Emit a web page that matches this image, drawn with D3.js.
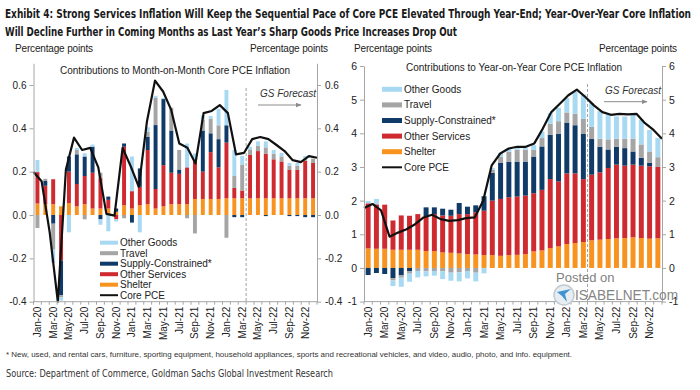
<!DOCTYPE html>
<html>
<head>
<meta charset="utf-8">
<script src="https://cdn.jsdelivr.net/npm/d3@7"></script>
<style>
  body { margin: 0; background: #fff; }
  svg text { font-family: "Liberation Sans", Arial, sans-serif; fill: #222; }
  svg text.cond { font-family: "Liberation Sans Narrow", "DejaVu Sans Condensed", "Liberation Sans", sans-serif; }
</style>
</head>
<body>
<svg id="chart" width="700" height="390"></svg>
<script>
// categories
let months = ["Jan-20","Feb-20","Mar-20","Apr-20","May-20","Jun-20","Jul-20","Aug-20","Sep-20","Oct-20","Nov-20","Dec-20",
  "Jan-21","Feb-21","Mar-21","Apr-21","May-21","Jun-21","Jul-21","Aug-21","Sep-21","Oct-21","Nov-21","Dec-21",
  "Jan-22","Feb-22","Mar-22","Apr-22","May-22","Jun-22","Jul-22","Aug-22","Sep-22","Oct-22","Nov-22","Dec-22"];

// month-on-month contributions (pp)
let momShelter = [0.053,0.05,0.05,0.04,0.055,0.04,0.05,0.03,0.03,0.03,0.015,0.045,
  0.03,0.045,0.05,0.03,0.04,0.05,0.05,0.05,0.074,0.074,0.074,0.074,
  0.077,0.077,0.077,0.077,0.077,0.077,0.077,0.077,0.077,0.077,0.077,0.077];
let momOtherServices = [0.145,0.085,0.115,-0.21,0.145,0.103,0.13,0.165,0.14,0.04,-0.02,0.27,
  0.08,0.085,0.25,0.09,0.19,0.145,0.14,0.17,0.18,0.126,0.216,0.146,
  0.257,0.048,0.036,0.2,0.218,0.205,0.18,0.17,0.131,0.131,0.173,0.163];
let momSupply = [0,0.022,-0.04,-0.16,0.07,0.137,0.09,0.12,-0.02,0.015,0.015,0.015,
  -0.035,0.085,0.06,0.295,0.305,0.195,0.02,0,0,0.19,0.087,0.13,
  0.08,-0.01,-0.01,0,0,-0.005,0,0,-0.005,-0.005,-0.01,-0.01];
let momTravel = [-0.06,0.01,-0.12,-0.01,0,0.02,-0.02,0,0.025,0,0,-0.015,
  0,0,0.025,0.125,0,0.105,0.09,-0.015,-0.085,0.05,0.068,0.064,
  -0.105,0.055,0.12,0.026,0.025,0.03,0.025,0.023,0.02,0.02,0.008,0.02];
let momOtherGoods = [0.056,0,-0.06,-0.015,-0.08,0.01,0.015,0.01,-0.025,-0.075,-0.01,0,
  0.16,-0.08,0.02,0.01,0.005,0,0,0.11,0.03,0.02,0.012,0.076,
  0.163,0.12,0.04,0.012,0.02,0.028,0.018,0.017,0.012,0.012,0.014,0];
let momCore = [0.198,0.156,-0.08,-0.40,0.21,0.357,0.30,0.31,0.22,0.005,-0.003,0.31,
  0.225,0.13,0.43,0.62,0.57,0.485,0.33,0.31,0.238,0.47,0.48,0.507,
  0.47,0.28,0.287,0.35,0.36,0.35,0.323,0.295,0.253,0.244,0.272,0.264];

// year-on-year contributions (pp)
let yoyShelter = [0.58,0.57,0.57,0.54,0.54,0.54,0.54,0.5,0.5,0.46,0.45,0.43,
  0.41,0.4,0.38,0.38,0.36,0.38,0.39,0.41,0.49,0.52,0.59,0.64,
  0.71,0.74,0.77,0.82,0.84,0.86,0.88,0.89,0.91,0.89,0.87,0.88];
let yoyOtherServices = [1.34,1.30,1.31,0.87,1.02,1.01,1.06,1.03,1.10,1.10,1.10,1.17,
  1.19,1.25,1.32,1.62,1.69,1.72,1.73,1.74,1.73,1.80,2.05,1.93,
  2.10,2.07,1.87,1.95,2.00,2.11,2.19,2.15,2.16,2.15,2.15,2.12];
let yoySupply = [-0.21,-0.15,-0.18,-0.3,-0.22,-0.1,0,0.27,0.2,0.2,0.18,0.33,
  0.22,0.21,0.43,0.83,1.08,1.05,1.04,1.01,1.09,1.29,1.32,1.42,
  1.51,1.43,1.34,1.06,0.76,0.55,0.53,0.52,0.39,0.23,0.1,0];
let yoyTravel = [0,0.04,0,-0.07,-0.07,-0.07,-0.09,-0.1,-0.09,-0.1,-0.14,-0.13,
  -0.09,-0.14,0,0.08,0.17,0.3,0.35,0.35,0.2,0.25,0.32,0.37,
  0.3,0.34,0.45,0.36,0.24,0.3,0.24,0.28,0.38,0.4,0.34,0.29];
let yoyOtherGoods = [0.07,0.14,0,-0.17,-0.27,-0.24,-0.19,-0.15,-0.14,-0.23,-0.24,-0.27,
  -0.22,-0.26,-0.16,0.06,0.12,0.1,0.07,0.07,0.14,0.19,0.32,0.4,
  0.43,0.65,0.72,0.71,0.82,0.74,0.66,0.66,0.72,0.74,0.64,0.57];
let yoyCore = [1.78,1.9,1.71,0.93,1.05,1.15,1.3,1.5,1.58,1.45,1.4,1.42,
  1.48,1.5,2.0,3.05,3.4,3.55,3.6,3.6,3.7,4.14,4.63,4.88,
  5.13,5.3,5.08,4.83,4.63,4.55,4.58,4.56,4.58,4.3,4.1,3.84];

let momTicks = [-0.4,-0.2,0,0.2,0.4,0.6];
let yoyTicks = [-1,0,1,2,3,4,5,6];

let keys = ["shelter","otherServices","supply","travel","otherGoods"];
let colors = {
  shelter: "#f7931e",
  otherServices: "#cf2a30",
  supply: "#103a68",
  travel: "#a5a5a5",
  otherGoods: "#a8d9f3"
};
let legendItems = [
  {key: "otherGoods", label: "Other Goods"},
  {key: "travel", label: "Travel"},
  {key: "supply", label: "Supply-Constrained*"},
  {key: "otherServices", label: "Other Services"},
  {key: "shelter", label: "Shelter"},
  {key: "core", label: "Core PCE"}
];

let svg = d3.select("#chart");

svg.append("defs").append("marker")
  .attr("id", "arrow")
  .attr("viewBox", "0 0 10 10")
  .attr("refX", 9).attr("refY", 5)
  .attr("markerWidth", 6).attr("markerHeight", 6)
  .attr("orient", "auto")
  .append("path")
  .attr("d", "M0,1 L10,5 L0,9 Z")
  .attr("fill", "#8c8c8c");

// title
svg.append("text").attr("class", "cond")
  .attr("x", 5).attr("y", 18)
  .attr("font-size", 13).attr("font-weight", "bold")
  .attr("textLength", 686).attr("lengthAdjust", "spacingAndGlyphs")
  .style("fill", "#1a1a1a")
  .text("Exhibit 4: Strong Services Inflation Will Keep the Sequential Pace of Core PCE Elevated Through Year-End; Year-Over-Year Core Inflation");
svg.append("text").attr("class", "cond")
  .attr("x", 5).attr("y", 36)
  .attr("font-size", 13).attr("font-weight", "bold")
  .attr("textLength", 452).attr("lengthAdjust", "spacingAndGlyphs")
  .style("fill", "#1a1a1a")
  .text("Will Decline Further in Coming Months as Last Year\u2019s Sharp Goods Price Increases Drop Out");

function drawPanel(p) {
  let g = svg.append("g");

  let rows = months.map((m, i) => {
    let r = {month: m};
    keys.forEach(k => r[k] = p.data[k][i]);
    return r;
  });

  let x = d3.scaleBand().domain(months)
    .range([p.x0, p.x1])
    .paddingInner(p.pad).paddingOuter(p.pad / 2);
  let xLine = d3.scalePoint().domain(months).range([p.x0, p.x1]);
  let y = d3.scaleLinear().domain(p.yDomain).range([p.yBottom, p.yTop]);
  let step = x.step();

  // stacked bars
  let stacked = d3.stack().keys(keys).offset(d3.stackOffsetDiverging)(rows);
  g.selectAll("g.layer")
    .data(stacked)
    .enter()
    .append("g")
    .attr("fill", d => colors[d.key])
    .selectAll("rect")
    .data(d => d)
    .enter()
    .append("rect")
    .attr("x", d => x(d.data.month))
    .attr("width", x.bandwidth())
    .attr("y", d => y(Math.max(d[0], d[1])))
    .attr("height", d => Math.abs(y(d[0]) - y(d[1])));

  // forecast divider
  let xf = x("Apr-22") - step * p.pad / 2;
  g.append("line")
    .attr("x1", xf).attr("x2", xf)
    .attr("y1", p.dashTop).attr("y2", p.yBottom)
    .attr("stroke", "#8c8c8c").attr("stroke-width", 0.8)
    .attr("stroke-dasharray", "3,2");

  g.append("text")
    .attr("x", p.gsX).attr("y", p.gsY)
    .attr("font-size", 10).attr("font-style", "italic")
    .style("fill", "#333")
    .text("GS Forecast");
  g.append("line")
    .attr("x1", p.arrowX0).attr("x2", p.arrowX1)
    .attr("y1", p.arrowY).attr("y2", p.arrowY)
    .attr("stroke", "#8c8c8c").attr("stroke-width", 1)
    .attr("marker-end", "url(#arrow)");

  // core PCE line
  let line = d3.line()
    .x((d, i) => xLine(months[i]))
    .y(d => y(d));
  g.append("path")
    .datum(p.core)
    .attr("d", line)
    .attr("fill", "none")
    .attr("stroke", "#111")
    .attr("stroke-width", 2.2)
    .attr("stroke-linejoin", "round");

  // y axes
  let leftAxis = d3.axisLeft(y).tickValues(p.ticks).tickFormat(p.fmt)
    .tickSize(4).tickPadding(3).tickSizeOuter(0);
  let rightAxis = d3.axisRight(y).tickValues(p.ticks).tickFormat(p.fmt)
    .tickSize(4).tickPadding(p.rightPad).tickSizeOuter(0);
  let yl = g.append("g").attr("transform", `translate(${p.x0},0)`).call(leftAxis);
  let yr = g.append("g").attr("transform", `translate(${p.x1},0)`).call(rightAxis);
  [yl, yr].forEach(a => {
    a.select(".domain").attr("stroke", "#a6a6a6");
    a.selectAll(".tick line").attr("stroke", "#a6a6a6");
    a.selectAll(".tick text")
      .attr("font-size", p.tickFont)
      .style("font-family", "'Liberation Sans', Arial, sans-serif")
      .style("fill", "#222");
  });

  // bottom axis
  g.append("line")
    .attr("x1", p.x0).attr("x2", p.x1)
    .attr("y1", p.yBottom).attr("y2", p.yBottom)
    .attr("stroke", "#a6a6a6");
  g.selectAll("line.xtick")
    .data(months.concat(["end"]))
    .enter()
    .append("line")
    .attr("x1", (d, i) => p.x0 + i * step)
    .attr("x2", (d, i) => p.x0 + i * step)
    .attr("y1", p.yBottom).attr("y2", p.yBottom + 3)
    .attr("stroke", "#a6a6a6");
  g.selectAll("text.xlab")
    .data(months.filter((m, i) => i % 2 === 0))
    .enter()
    .append("text")
    .attr("transform", d => `translate(${x(d) + x.bandwidth() / 2},${p.yBottom + 5}) rotate(-90)`)
    .attr("dy", "0.35em")
    .attr("text-anchor", "end")
    .attr("font-size", 10)
    .text(d => d);

  // subtitle and unit labels
  g.append("text")
    .attr("x", p.subX).attr("y", p.subY)
    .attr("font-size", 10)
    .attr("textLength", p.subLen).attr("lengthAdjust", "spacing")
    .text(p.subtitle);
  g.append("text")
    .attr("x", p.unitL).attr("y", 52)
    .attr("font-size", 10).attr("textLength", 78).attr("lengthAdjust", "spacing")
    .text("Percentage  points");
  g.append("text")
    .attr("x", p.unitR).attr("y", 52)
    .attr("font-size", 10).attr("textLength", 78).attr("lengthAdjust", "spacing")
    .text("Percentage  points");

  // legend
  let lg = g.append("g");
  legendItems.forEach((it, i) => {
    let cy = p.legY + i * p.legStep;
    if (it.key === "core") {
      lg.append("line")
        .attr("x1", p.legX).attr("x2", p.legX + p.legW)
        .attr("y1", cy).attr("y2", cy)
        .attr("stroke", "#111").attr("stroke-width", 2);
    } else {
      lg.append("rect")
        .attr("x", p.legX).attr("y", cy - p.legH / 2)
        .attr("width", p.legW).attr("height", p.legH)
        .attr("fill", colors[it.key]);
    }
    lg.append("text")
      .attr("x", p.legX + p.legW + 2).attr("y", cy)
      .attr("dy", "0.35em")
      .attr("font-size", 10)
      .text(it.label);
  });
}

drawPanel({
  data: {shelter: momShelter, otherServices: momOtherServices, supply: momSupply, travel: momTravel, otherGoods: momOtherGoods},
  core: momCore,
  x0: 33.5, x1: 317, yTop: 63.3, yBottom: 301.7, yDomain: [-0.4, 0.7],
  pad: 0.5, ticks: momTicks, fmt: d => d.toFixed(1), tickFont: 10, rightPad: 4,
  dashTop: 88, gsX: 260, gsY: 97, arrowX0: 258, arrowX1: 301, arrowY: 105,
  subtitle: "Contributions to Month-on-Month  Core PCE Inflation", subX: 60, subY: 74, subLen: 230,
  unitL: 15, unitR: 250,
  legX: 100, legY: 242.7, legStep: 10.5, legW: 18, legH: 4
});

drawPanel({
  data: {shelter: yoyShelter, otherServices: yoyOtherServices, supply: yoySupply, travel: yoyTravel, otherGoods: yoyOtherGoods},
  core: yoyCore,
  x0: 364, x1: 662, yTop: 66, yBottom: 301.6, yDomain: [-1, 6],
  pad: 0.4, ticks: yoyTicks, fmt: d => String(d), tickFont: 10.5, rightPad: 3,
  dashTop: 84, gsX: 605, gsY: 94, arrowX0: 604, arrowX1: 647, arrowY: 101.7,
  subtitle: "Contributions to Year-on-Year  Core PCE Inflation", subX: 406, subY: 71, subLen: 216,
  unitL: 354, unitR: 599,
  legX: 382, legY: 89.3, legStep: 15.6, legW: 20, legH: 5
});

// footnote and source
svg.append("text")
  .attr("x", 6).attr("y", 357)
  .attr("font-size", 7.5)
  .attr("textLength", 566).attr("lengthAdjust", "spacingAndGlyphs")
  .style("fill", "#333")
  .text("* New, used, and rental cars, furniture, sporting equipment, household appliances, sports and recreational vehicles, and video, audio, photo, and info. equipment.");
svg.append("text").attr("class", "cond")
  .attr("x", 6).attr("y", 377)
  .attr("font-size", 11)
  .attr("textLength", 327).attr("lengthAdjust", "spacingAndGlyphs")
  .style("fill", "#333")
  .text("Source: Department of Commerce, Goldman Sachs Global Investment Research");

// watermark
let wm = svg.append("g");
wm.append("text")
  .attr("x", 556).attr("y", 282)
  .attr("font-size", 13)
  .style("fill", "#7f7f7f")
  .text("Posted on");
wm.append("circle")
  .attr("cx", 564).attr("cy", 295).attr("r", 10)
  .attr("fill", "#e8edf1").attr("stroke", "#c3cbd2").attr("stroke-width", 1.5);
wm.append("path")
  .attr("d", "M557,292 L571,289 L565,294 L567,302 L562,296 Z")
  .attr("fill", "#3f93d3");
wm.append("text")
  .attr("x", 575).attr("y", 300)
  .attr("font-size", 14)
  .attr("textLength", 103).attr("lengthAdjust", "spacingAndGlyphs")
  .style("fill", "#858585")
  .text("ISABELNET.com");
</script>
</body>
</html>
